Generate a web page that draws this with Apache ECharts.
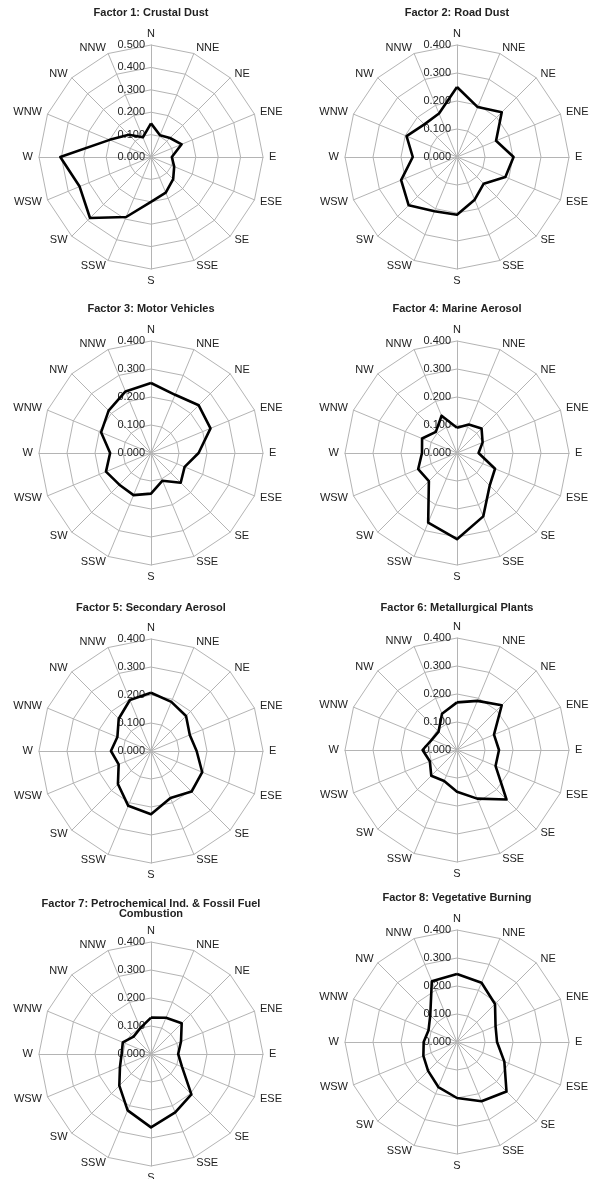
<!DOCTYPE html>
<html>
<head>
<meta charset="utf-8">
<script src="https://cdn.jsdelivr.net/npm/echarts@6/dist/echarts.min.js"></script>
<style>
html,body{margin:0;padding:0;background:#fff;}
#chart{width:590px;height:1179px;}
</style>
</head>
<body>
<div id="chart"></div>
<script>
// Directions, clockwise from North
var directions = ['N','NNE','NE','ENE','E','ESE','SE','SSE','S','SSW','SW','WSW','W','WNW','NW','NNW'];

var titles = [
  'Factor 1: Crustal Dust',
  'Factor 2: Road Dust',
  'Factor 3: Motor Vehicles',
  'Factor 4: Marine Aerosol',
  'Factor 5: Secondary Aerosol',
  'Factor 6: Metallurgical Plants',
  'Factor 7: Petrochemical Ind. & Fossil Fuel\nCombustion',
  'Factor 8: Vegetative Burning'
];

var axisMax = [0.5, 0.4, 0.4, 0.4, 0.4, 0.4, 0.4, 0.4];
var axisStep = 0.1;

// Values per direction (clockwise from N)
var factor1 = [0.150, 0.105, 0.120, 0.148, 0.093, 0.112, 0.140, 0.172, 0.200, 0.290, 0.385, 0.345, 0.405, 0.200, 0.140, 0.095];
var factor2 = [0.250, 0.193, 0.226, 0.151, 0.202, 0.187, 0.135, 0.165, 0.206, 0.210, 0.244, 0.216, 0.158, 0.195, 0.165, 0.168];
var factor3 = [0.250, 0.225, 0.241, 0.230, 0.170, 0.130, 0.150, 0.107, 0.145, 0.163, 0.160, 0.174, 0.146, 0.193, 0.214, 0.238];
var factor4 = [0.090, 0.110, 0.124, 0.099, 0.077, 0.147, 0.165, 0.245, 0.308, 0.269, 0.142, 0.150, 0.125, 0.135, 0.107, 0.144];
var factor5 = [0.208, 0.190, 0.177, 0.150, 0.163, 0.198, 0.205, 0.182, 0.226, 0.212, 0.167, 0.125, 0.143, 0.130, 0.163, 0.197];
var factor6 = [0.170, 0.190, 0.226, 0.143, 0.150, 0.149, 0.250, 0.188, 0.149, 0.120, 0.130, 0.105, 0.123, 0.097, 0.093, 0.140];
var factor7 = [0.130, 0.140, 0.155, 0.116, 0.097, 0.120, 0.204, 0.226, 0.262, 0.218, 0.160, 0.120, 0.105, 0.109, 0.088, 0.100];
var factor8 = [0.243, 0.229, 0.192, 0.149, 0.143, 0.183, 0.250, 0.229, 0.200, 0.174, 0.146, 0.130, 0.119, 0.110, 0.135, 0.235];

var factors = [factor1, factor2, factor3, factor4, factor5, factor6, factor7, factor8];

// layout
var centers = [[151,157],[457,157],[151,453],[457,453],[151,751],[457,750],[151,1054],[457,1042]];
var titleTops = [8, 8, 304, 304, 603, 603, 899, 893];

var FONT = "'Liberation Sans', Arial, Helvetica, sans-serif";
var GRID = '#b4b4b4';

// ECharts radar places indicators counter-clockwise; map clockwise data accordingly
var order = [0];
for (var k = directions.length - 1; k >= 1; k--) order.push(k);

var radars = [], series = [], titleOpts = [];
factors.forEach(function (vals, i) {
  var indicator = order.map(function (idx, j) {
    var ind = { name: directions[idx], min: 0, max: axisMax[i] };
    if (j === 0) {
      ind.axisLabel = {
        show: true,
        color: '#222',
        fontSize: 11,
        fontFamily: FONT,
        margin: 6,
        formatter: function (v) { return Number(v).toFixed(3); }
      };
    }
    return ind;
  });
  radars.push({
    center: centers[i],
    radius: 112,
    startAngle: 90,
    shape: 'polygon',
    splitNumber: Math.round(axisMax[i] / axisStep),
    indicator: indicator,
    nameGap: 6,
    axisName: { color: '#222', fontSize: 11, fontFamily: FONT },
    splitLine: { lineStyle: { color: GRID, width: 1 } },
    splitArea: { show: false },
    axisLine: { lineStyle: { color: GRID, width: 1 } },
    axisTick: { show: false },
    axisLabel: { show: false }
  });
  series.push({
    type: 'radar',
    radarIndex: i,
    symbol: 'none',
    silent: true,
    lineStyle: { color: '#000', width: 2.6 },
    data: [{ value: order.map(function (idx) { return vals[idx]; }) }]
  });
  titleOpts.push({
    text: titles[i],
    left: centers[i][0],
    top: titleTops[i],
    textAlign: 'center',
    padding: 0,
    textStyle: { fontSize: 11, fontWeight: 'bold', color: '#222', fontFamily: FONT, lineHeight: 10 }
  });
});

var chart = echarts.init(document.getElementById('chart'), null, { renderer: 'canvas' });
chart.setOption({
  animation: false,
  backgroundColor: '#fff',
  title: titleOpts,
  radar: radars,
  series: series
});
</script>
</body>
</html>
